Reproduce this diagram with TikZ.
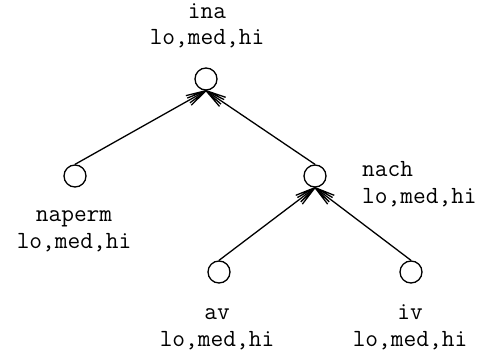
\documentclass[tikz,border=0pt]{standalone}
\usepackage{fontspec}
\usetikzlibrary{arrows.meta}

% Fan-shaped arrow tip: two pairs of barbs meeting at the tip
\pgfdeclarearrow{
  name = Fan,
  parameters = {\the\pgfarrowlength,\the\pgfarrowwidth},
  setup code = {
    \pgfarrowssettipend{0pt}
    \pgfarrowssetlineend{0pt}
    \pgfarrowssetbackend{-\pgfarrowlength}
    \pgfarrowssetvisualbackend{-\pgfarrowlength}
    \pgfarrowssavethe\pgfarrowlength
    \pgfarrowssavethe\pgfarrowwidth
  },
  drawing code = {
    \pgfsetdash{}{0pt}
    \pgfsetroundjoin
    \pgfpathmoveto{\pgfpoint{-\pgfarrowlength}{.5\pgfarrowwidth}}
    \pgfpathlineto{\pgfpointorigin}
    \pgfpathlineto{\pgfpoint{-\pgfarrowlength}{-.5\pgfarrowwidth}}
    \pgfpathmoveto{\pgfpoint{-\pgfarrowlength}{.25\pgfarrowwidth}}
    \pgfpathlineto{\pgfpointorigin}
    \pgfpathlineto{\pgfpoint{-\pgfarrowlength}{-.25\pgfarrowwidth}}
    \pgfusepathqstroke
  },
  defaults = {length = 20pt, width = 11pt}
}

\begin{document}
\begin{tikzpicture}[x=1pt, y=-1pt,
  var/.style={circle, draw, line width=1.3pt, minimum size=22pt, inner sep=0pt},
  lbl/.style={font=\ttfamily\fontsize{24.7}{26.5}\selectfont, inner sep=0pt, anchor=base},
  edge/.style={line width=1.3pt, -{Fan}}]
  \useasboundingbox (0,0) rectangle (486,358);

  % variables of the network
  \node[var] (ina)    at (206,79)  {};
  \node[var] (naperm) at (75,176)  {};
  \node[var] (nach)   at (315,176) {};
  \node[var] (av)     at (219,272) {};
  \node[var] (iv)     at (411,272) {};

  % names and states (placed by the baseline of the last line)
  \node[lbl, align=center] (ina-l)    at (207,45)  {ina\\lo,med,hi};
  \node[lbl, align=center] (naperm-l) at (74,248)  {naperm\\lo,med,hi};
  \node[lbl, align=left, anchor=base west] (nach-l) at (362,203) {nach\\lo,med,hi};
  \node[lbl, align=center] (av-l)     at (217,346) {av\\lo,med,hi};
  \node[lbl, align=center] (iv-l)     at (410,346) {iv\\lo,med,hi};

  % dependencies
  \draw[edge] (naperm.north) -- (ina.south);
  \draw[edge] (nach.north)   -- (ina.south);
  \draw[edge] (av.north)     -- (nach.south);
  \draw[edge] (iv.north)     -- (nach.south);
\end{tikzpicture}
\end{document}
